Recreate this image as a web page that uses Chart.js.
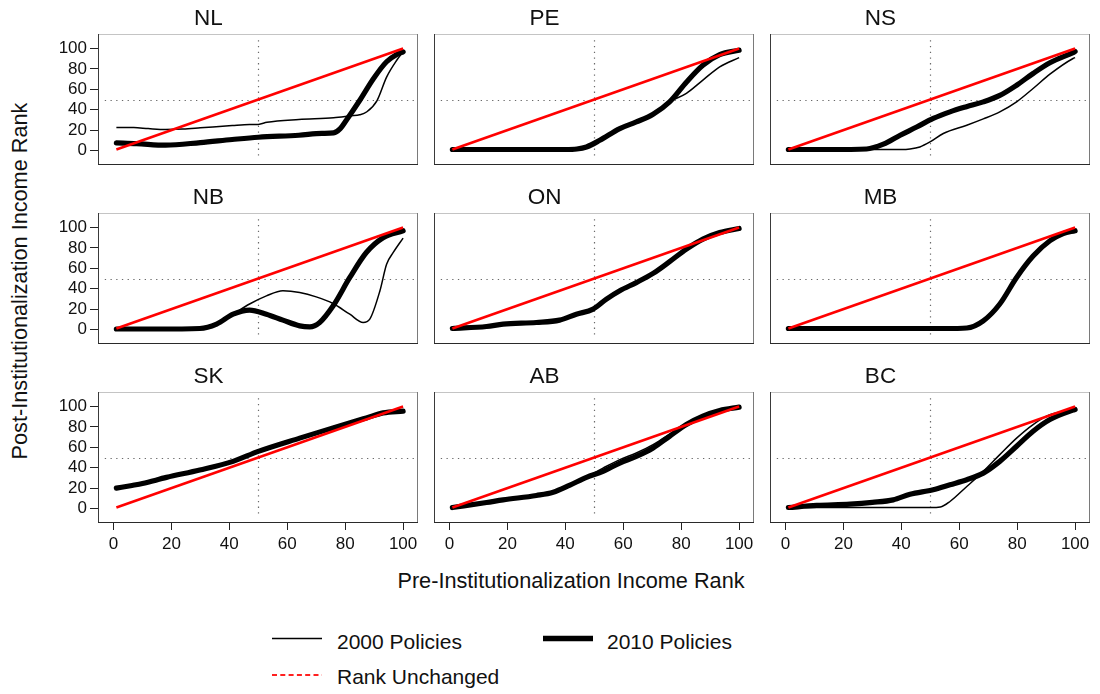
<!DOCTYPE html>
<html>
<head>
<meta charset="utf-8">
<script src="https://cdn.jsdelivr.net/npm/chart.js@4.4.1/dist/chart.umd.min.js"></script>
<style>
  html, body { margin: 0; padding: 0; background: #ffffff; }
  body { width: 1100px; height: 694px; position: relative; overflow: hidden;
         font-family: "Liberation Sans", Arial, sans-serif; color: #111; }
  canvas { position: absolute; }
  .txt { position: absolute; white-space: nowrap; font-size: 21px; line-height: 21px; color: #111; }
  .axis-title { font-size: 21.7px; }
  .legend-key { position: absolute; }
</style>
</head>
<body>

<div class="txt axis-title" style="left:19px; top:281px; transform: translate(-50%, -50%) rotate(-90deg);">Post-Institutionalization Income Rank</div>
<div class="txt axis-title" style="left:571px; top:570px; transform: translateX(-50%);">Pre-Institutionalization Income Rank</div>

<svg class="legend-key" style="left:270px; top:628px;" width="60" height="60">
  <line x1="2" y1="10.5" x2="52" y2="10.5" stroke="#000" stroke-width="1.6"/>
  <line x1="2" y1="47" x2="52" y2="47" stroke="#ff2020" stroke-width="2" stroke-dasharray="5 3.3"/>
</svg>
<div class="txt" style="left:337px; top:631px;">2000 Policies</div>
<svg class="legend-key" style="left:541px; top:628px;" width="60" height="20">
  <line x1="2" y1="10.5" x2="52" y2="10.5" stroke="#000" stroke-width="5.5"/>
</svg>
<div class="txt" style="left:607px; top:631px;">2010 Policies</div>
<div class="txt" style="left:337px; top:666px;">Rank Unchanged</div>

<script>
// Provinces, in panel order (row by row)
const PANELS = ['NL', 'PE', 'NS', 'NB', 'ON', 'MB', 'SK', 'AB', 'BC'];

// Axis ticks
const X_TICKS = [0, 20, 40, 60, 80, 100];
const Y_TICKS = [0, 20, 40, 60, 80, 100];
const REFERENCE_LEVEL = 50;

// 45-degree line: post rank equals pre rank
const UNCHANGED = [[1, 1], [100, 100]];

// [pre-institutionalization rank, post-institutionalization rank]
const NL_2000 = [[1,22.5],[7,22.5],[12,21.5],[18,20.6],[24,21],[30,22.2],[41,24.5],[47,25.5],[50,25.6],[53,27.7],[64,30.4],[76,32],[82,34],[85,35],[87.5,38],[91,49],[94.3,72],[97.8,88.5],[100,96.7]];
const NL_2010 = [[1,7.5],[8,6.8],[18,5.2],[30,7.8],[41,10.8],[50,13],[64,15],[72,16.8],[76,17.3],[78.3,21.5],[80.4,29.7],[85,49],[89.8,70.6],[94.3,87],[97.8,94],[100,96.7]];

const PE_2000 = [[1,1],[20,1],[40,1],[44,1.5],[47.3,3.5],[51.9,10],[58.8,21.5],[64.5,28],[70.3,35.6],[76,47.7],[81.8,56],[87.5,69],[93.3,82],[100,91]];
const PE_2010 = [[1,1],[20,1],[40,1],[44,1.5],[47.3,3.5],[51.9,10],[58.8,21.5],[64.5,28],[70.3,35.6],[76,47.7],[81.8,67],[87.5,83.6],[93.3,94],[100,98.3]];

const NS_2000 = [[1,1],[20,1],[40,1],[43,1.5],[46.4,3.5],[49.9,8.4],[54.5,16.7],[62.6,24.8],[68.3,31],[74,37.9],[79.8,47.7],[85.5,60.8],[91.3,74.8],[99.3,90.2],[100,91]];
const NS_2010 = [[1,1],[15,1],[28,1.5],[33.8,6.2],[39.6,15],[45.3,23],[51,31.4],[56.8,37.9],[62.5,43],[68.3,47.7],[74,54],[79.8,64],[85.5,75.5],[91.3,86],[99.3,96],[100,97]];

const NB_2000 = [[1,0.5],[15,0.5],[29.8,1],[35.6,5.3],[41.3,15],[47,25],[52.8,33],[58.5,38],[64.3,36.3],[70,32],[75.8,25.5],[81.6,15],[86.2,6.9],[88.5,10.2],[92,38],[94.3,64],[96.6,75.5],[100,89.6]];
const NB_2010 = [[1,0.5],[15,0.5],[29.8,1],[35.6,5.3],[41.3,15],[47,19],[52.8,15],[58.5,9.2],[64.3,3.6],[67.8,2.6],[71.2,6.9],[75.8,23],[81.6,51],[87.3,75.5],[93.1,90],[100,96.8]];

const ON_2000 = [[1,1],[12.8,3],[18.5,5.3],[30,6.9],[38,9.2],[43.8,15],[49.6,20],[54.2,29.8],[58.8,38],[64.5,46],[70.3,55],[76,66.5],[81.8,78.8],[87.5,88.6],[93.3,95],[100,99]];
const ON_2010 = [[1,1],[12.8,3],[18.5,5.3],[30,6.9],[38,9.2],[43.8,15],[49.6,20],[54.2,29.8],[58.8,38],[64.5,46],[70.3,55],[76,66.5],[81.8,78.8],[87.5,88.6],[93.3,95],[100,99]];

const MB_2000 = [[1,1],[20,1],[40,1],[55,1],[62.6,1.5],[68.3,8.5],[74,25],[79.8,51],[85.5,72],[91.3,87],[95.9,94],[100,96.8]];
const MB_2010 = [[1,1],[20,1],[40,1],[55,1],[62.6,1.5],[68.3,8.5],[74,25],[79.8,51],[85.5,72],[91.3,87],[95.9,94],[100,96.8]];

const SK_2000 = [[1,20],[6.4,22.6],[10,24.5],[18.3,30.5],[29.8,37.7],[41.3,46.2],[50,56],[64.3,69],[75.8,79],[87.3,88.8],[93.1,93.7],[100,95.4]];
const SK_2010 = [[1,20],[6.4,22.6],[10,24.5],[18.3,30.5],[29.8,37.7],[41.3,46.2],[50,56],[64.3,69],[75.8,79],[87.3,88.8],[93.1,93.7],[100,95.4]];

const AB_2000 = [[1,1],[12.8,5.9],[18.5,8.5],[30,12.8],[35.8,16],[41.6,23],[47.3,31],[53,39.6],[58.8,47.9],[64.5,54.4],[70.3,62.6],[76,73],[81.8,82.3],[87.5,90.5],[93.3,96],[100,99.3]];
const AB_2010 = [[1,1],[12.8,5.9],[18.5,8.5],[30,12.8],[35.8,16],[41.6,23],[47.3,30.5],[53,36.4],[58.8,44.6],[64.5,51],[70.3,59.3],[76,70.8],[81.8,82.3],[87.5,90.5],[93.3,96],[100,99.3]];

const BC_2000 = [[1,1],[20,1],[40,1],[50,1],[53.5,1.5],[56.8,6.9],[62.6,21.6],[68.3,36.4],[74,52.8],[79.8,69],[85.5,82.3],[91.3,92],[100,97]];
const BC_2010 = [[1,1],[10.8,3],[22.3,4.3],[30,6],[37.2,8.5],[43,14],[51,18.4],[56.8,23.3],[62.6,28.2],[68.3,34.7],[74,46.2],[79.8,61],[85.5,75.7],[91.3,87.2],[99.3,96.4],[100,97]];

const SERIES = {
  NL: [NL_2000, NL_2010], PE: [PE_2000, PE_2010], NS: [NS_2000, NS_2010],
  NB: [NB_2000, NB_2010], ON: [ON_2000, ON_2010], MB: [MB_2000, MB_2010],
  SK: [SK_2000, SK_2010], AB: [AB_2000, AB_2010], BC: [BC_2000, BC_2010]
};

// Panel geometry (page pixels)
const PLOT_LEFTS = [99, 435, 771];
const PLOT_TOPS = [35, 214, 393];
const PLOT_W = 318, PLOT_H = 129;
const M_L = 99, M_R = 24, M_T = 35, M_B = 42;
const X_MIN = -5, X_MAX = 104.8;
const Y_MIN = -13.2, Y_MAX = 113.2;

Chart.defaults.font.family = '"Liberation Sans", Arial, sans-serif';
Chart.defaults.color = '#111';

// Dotted guides at the median rank, drawn beneath the curves; panel frame on top
const guidePlugin = {
  id: 'guides',
  beforeDatasetsDraw(chart) {
    const { ctx, scales: { x, y } } = chart;
    ctx.save();
    ctx.strokeStyle = '#6a6a6a';
    ctx.lineWidth = 1.2;
    ctx.setLineDash([1.3, 4.4]);
    ctx.beginPath();
    const yp = Math.round(y.getPixelForValue(REFERENCE_LEVEL)) + 0.5;
    ctx.moveTo(x.getPixelForValue(-3), yp);
    ctx.lineTo(x.getPixelForValue(104), yp);
    const xp = Math.round(x.getPixelForValue(REFERENCE_LEVEL)) + 0.5;
    ctx.moveTo(xp, y.getPixelForValue(108));
    ctx.lineTo(xp, y.getPixelForValue(-8));
    ctx.stroke();
    ctx.restore();
  },
  afterDraw(chart) {
    const { ctx, chartArea: a } = chart;
    ctx.save();
    ctx.lineWidth = 1;
    const seg = (c, x1, y1, x2, y2) => {
      ctx.strokeStyle = c; ctx.beginPath(); ctx.moveTo(x1, y1); ctx.lineTo(x2, y2); ctx.stroke();
    };
    seg('#c4c4c4', a.left - 1, a.top - 0.5, a.right + 1, a.top - 0.5);
    seg('#7a7a7a', a.right + 0.5, a.top - 1, a.right + 0.5, a.bottom + 1);
    seg('#3a3a3a', a.left - 0.5, a.top - 1, a.left - 0.5, a.bottom + 1);
    seg('#2a2a2a', a.left - 1, a.bottom + 0.5, a.right + 1, a.bottom + 0.5);
    ctx.restore();
  }
};

const toPoints = arr => arr.map(([x, y]) => ({ x, y }));

PANELS.forEach((name, i) => {
  const col = i % 3, row = Math.floor(i / 3);
  const canvas = document.createElement('canvas');
  canvas.width = M_L + PLOT_W + M_R;
  canvas.height = M_T + PLOT_H + M_B;
  canvas.style.left = (PLOT_LEFTS[col] - M_L) + 'px';
  canvas.style.top = (PLOT_TOPS[row] - M_T) + 'px';
  document.body.appendChild(canvas);

  const [s2000, s2010] = SERIES[name];
  const showX = row === 2, showY = col === 0;

  new Chart(canvas, {
    type: 'line',
    data: {
      datasets: [
        { label: 'Rank Unchanged', data: toPoints(UNCHANGED), borderColor: '#ff0000',
          borderWidth: 2.6, pointRadius: 0, tension: 0 },
        { label: '2010 Policies', data: toPoints(s2010), borderColor: '#000000',
          borderWidth: 5.2, pointRadius: 0, cubicInterpolationMode: 'monotone',
          borderCapStyle: 'round', borderJoinStyle: 'round' },
        { label: '2000 Policies', data: toPoints(s2000), borderColor: '#000000',
          borderWidth: 1.5, pointRadius: 0, cubicInterpolationMode: 'monotone' }
      ]
    },
    options: {
      responsive: false,
      animation: false,
      devicePixelRatio: 1,
      events: [],
      layout: { padding: { left: 0, right: M_R, top: 0, bottom: 0 } },
      plugins: {
        legend: { display: false },
        tooltip: { enabled: false },
        title: { display: true, text: name, color: '#111',
                 font: { size: 22.5, weight: 'normal' }, padding: { top: 5.5, bottom: 2.5 } }
      },
      scales: {
        x: {
          type: 'linear', min: X_MIN, max: X_MAX,
          afterBuildTicks: s => { s.ticks = X_TICKS.map(v => ({ value: v })); },
          afterFit: s => { s.height = M_B; },
          border: { display: false },
          grid: { drawOnChartArea: false, drawTicks: showX, tickLength: 8, color: '#222', lineWidth: 1 },
          ticks: { display: showX, padding: 4, autoSkip: false, maxRotation: 0,
                   font: { size: 17 }, color: '#111' }
        },
        y: {
          type: 'linear', min: Y_MIN, max: Y_MAX,
          afterBuildTicks: s => { s.ticks = Y_TICKS.map(v => ({ value: v })); },
          afterFit: s => { s.width = M_L; },
          border: { display: false },
          grid: { drawOnChartArea: false, drawTicks: showY, tickLength: 9, color: '#222', lineWidth: 1 },
          ticks: { display: showY, padding: 3, autoSkip: false,
                   font: { size: 17 }, color: '#111' }
        }
      }
    },
    plugins: [guidePlugin]
  });
});
</script>
</body>
</html>
